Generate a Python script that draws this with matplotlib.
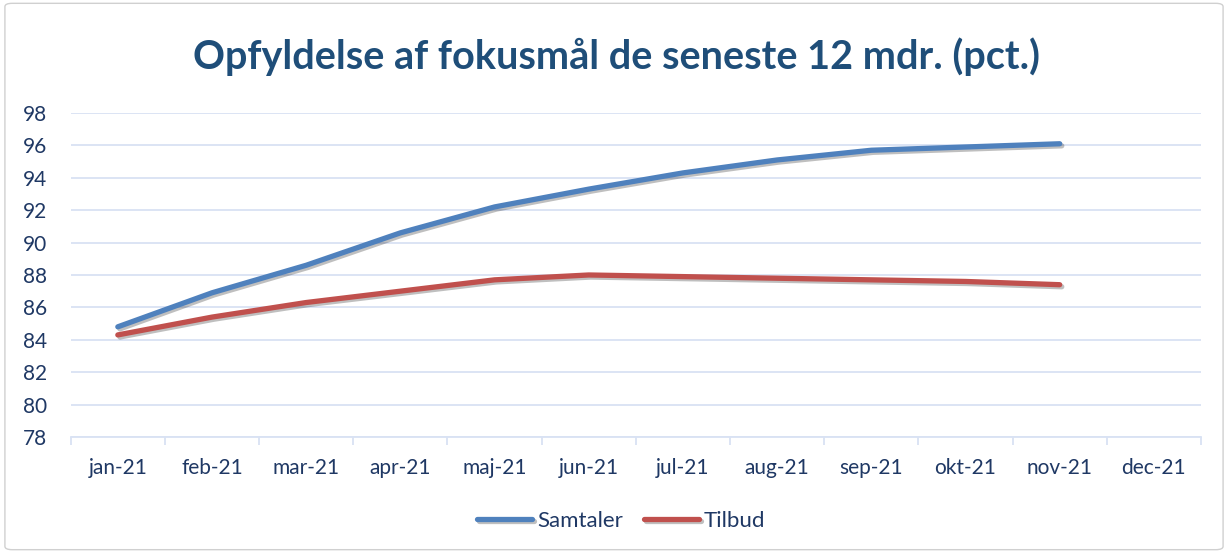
import numpy as np
import matplotlib.pyplot as plt
import matplotlib.patheffects as pe
from matplotlib.patches import FancyBboxPatch
from matplotlib.ticker import FixedLocator

months = ['jan-21', 'feb-21', 'mar-21', 'apr-21', 'maj-21', 'jun-21',
          'jul-21', 'aug-21', 'sep-21', 'okt-21', 'nov-21', 'dec-21']
samtaler = [84.8, 86.9, 88.6, 90.6, 92.2, 93.3, 94.3, 95.1, 95.7, 95.9, 96.1]
tilbud = [84.3, 85.4, 86.3, 87.0, 87.7, 88.0, 87.9, 87.8, 87.7, 87.6, 87.4]
yticks = list(range(78, 100, 2))

title_col = '#1F4E79'
text_col = '#1F3864'
grid_col = '#D9E2F3'

plt.rcParams['font.family'] = ['Lato', 'DejaVu Sans']

fig = plt.figure(figsize=(12.28, 5.53), dpi=100)
ax = fig.add_axes([0.0576, 0.2098, 0.9204, 0.5859])

# chart border
fig.patches.append(FancyBboxPatch((0.004, 0.006), 0.992, 0.988,
                                  boxstyle='round,pad=0,rounding_size=0.006',
                                  transform=fig.transFigure, fill=False,
                                  edgecolor='#D0D0D0', linewidth=1.0))

x = np.arange(len(months))
shadow = [pe.SimpleLineShadow(offset=(1.5, -1.5), alpha=0.25, shadow_color='black'),
          pe.Normal()]
ax.plot(x[:len(samtaler)], samtaler, color='#4F81BD', linewidth=3.8,
        solid_capstyle='round', label='Samtaler', path_effects=shadow, zorder=3)
ax.plot(x[:len(tilbud)], tilbud, color='#C0504D', linewidth=3.8,
        solid_capstyle='round', label='Tilbud', path_effects=shadow, zorder=3)

ax.set_xlim(-0.5, len(months) - 0.5)
ax.set_ylim(78, 98)
ax.set_yticks(yticks)
ax.yaxis.grid(True, color=grid_col, linewidth=1.3)
ax.set_axisbelow(True)

ax.xaxis.set_major_locator(FixedLocator(np.arange(-0.5, len(months), 1.0)))
ax.xaxis.set_minor_locator(FixedLocator(x))
ax.set_xticklabels([], minor=False)
ax.set_xticklabels(months, minor=True)
ax.tick_params(axis='x', which='major', length=6, color=grid_col, width=1.3)
ax.tick_params(axis='x', which='minor', length=0, pad=15, labelsize=15,
               labelcolor=text_col)
ax.tick_params(axis='y', length=0, pad=17, labelsize=15, labelcolor=text_col)

for side in ['top', 'right', 'left']:
    ax.spines[side].set_visible(False)
ax.spines['bottom'].set_color(grid_col)
ax.spines['bottom'].set_linewidth(1.3)

fig.text(0.502, 0.897, 'Opfyldelse af fokusmål de seneste 12 mdr. (pct.)',
         ha='center', va='center', fontsize=28.5, fontweight='bold', color=title_col)

leg = fig.legend(loc='center', bbox_to_anchor=(0.506, 0.058), ncol=2, frameon=False,
                 fontsize=16, handlelength=2.45, handletextpad=0.25, columnspacing=0.95)
for t in leg.get_texts():
    t.set_color(text_col)

fig.savefig('out.png', dpi=100)
